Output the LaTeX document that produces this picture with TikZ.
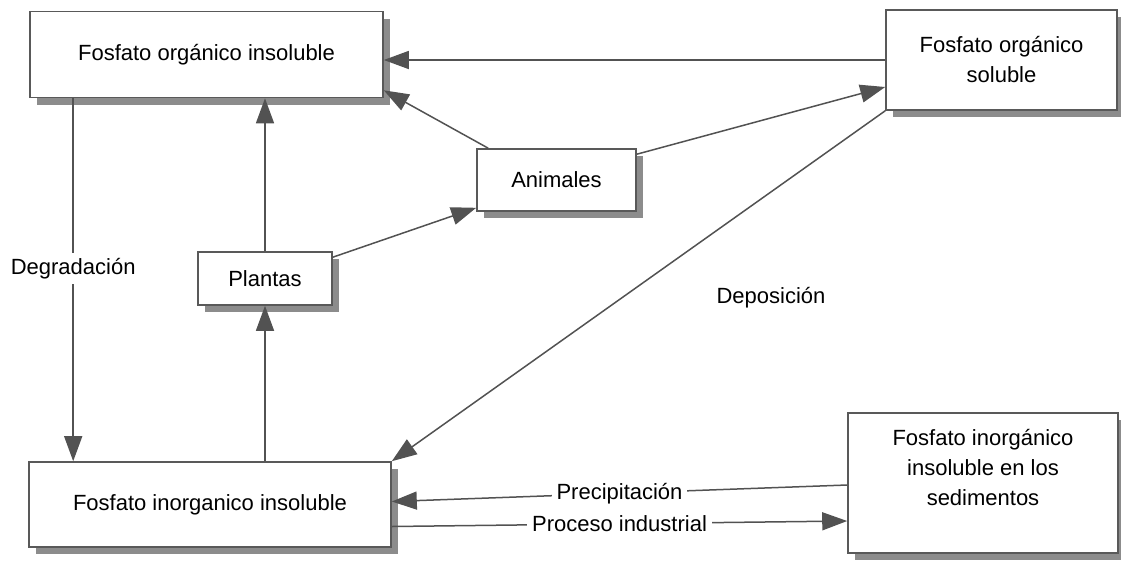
\documentclass[tikz,border=0pt]{standalone}
\usepackage{fontspec}
\setmainfont{Liberation Sans}
\usetikzlibrary{arrows.meta,shadows}

\begin{document}
\begin{tikzpicture}[x=1pt,y=-1pt,
    font=\fontsize{22}{30}\selectfont,
    caja/.style={draw=black!65,line width=1.6pt,fill=white,align=center,
      drop shadow={shadow xshift=7pt,shadow yshift=-7pt,fill=black!45,opacity=1}},
    flecha/.style={draw=black!68,line width=1.5pt,-{Triangle[length=25pt,width=18pt]}},
    rotulo/.style={fill=white,inner sep=5pt}]
        \useasboundingbox (0,0) rectangle (1121,560);

        \node[caja,minimum width=353pt,minimum height=86pt] (oi) at (206.5,54.5) {Fosfato orgánico insoluble};
        \node[caja,minimum width=231pt,minimum height=100pt] (os) at (1001.5,60) {Fosfato orgánico\\soluble};
        \node[caja,minimum width=159pt,minimum height=62pt] (an) at (556.5,180) {Animales};
        \node[caja,minimum width=134pt,minimum height=53pt] (pl) at (265,278.5) {Plantas};
        \node[caja,minimum width=362pt,minimum height=85pt] (ii) at (210,504.5) {Fosfato inorganico insoluble};
        \node[caja,minimum width=270pt,minimum height=140pt,
              label={[align=center,yshift=16pt]center:Fosfato inorgánico\\insoluble en los\\sedimentos}] (se) at (983,483) {};
        \node (dep) at (771,298) {Deposición};

        \coordinate (d0) at ([xshift=44pt]oi.south west);

        \draw[flecha] (os.west) -- (os.west -| oi.east);
        \draw[flecha] ([xshift=12pt]an.north west) -- ([yshift=8pt]oi.south east);
        \draw[flecha] (pl.north) -- (pl.north |- oi.south);
        \draw[flecha] ([yshift=-6pt]pl.north east) -- ([yshift=4pt]an.south west);
        \draw[flecha] ([yshift=-6pt]an.north east) -- ([yshift=-27pt]os.west);
        \draw[flecha] (os.south west) -- (ii.north east);
        \draw[flecha] (d0) -- (d0 |- ii.north) node[rotulo,pos=0.47] {Degradación};
        \draw[flecha] (pl.south |- ii.north) -- (pl.south);
        \draw[flecha] ([yshift=-2pt]se.west) -- ([yshift=3pt]ii.east) node[rotulo,midway] {Precipitación};
        \draw[flecha] ([yshift=-22pt]ii.east) -- ([yshift=-38pt]se.west) node[rotulo,midway] {Proceso industrial};

      \end{tikzpicture}
\end{document}
